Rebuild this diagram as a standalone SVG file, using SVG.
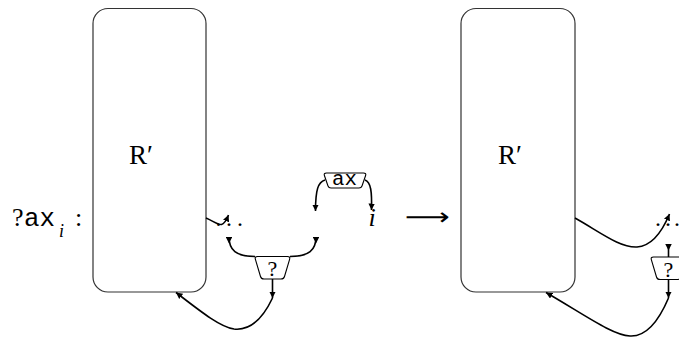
<svg xmlns="http://www.w3.org/2000/svg" width="679" height="340" viewBox="0 0 679 340">
<style>
.box{fill:#fff;stroke:#333;stroke-width:1.2}
.cell{fill:#fff;stroke:#000;stroke-width:1.1;stroke-linejoin:round}
.w{fill:none;stroke:#000;stroke-width:1.6}
.serif{font-family:"Liberation Serif","DejaVu Serif",serif;fill:#000}
.mono{font-family:"Liberation Mono","DejaVu Sans Mono",monospace;fill:#000}
.it{font-family:"Liberation Serif","DejaVu Serif",serif;font-style:italic;fill:#000}
</style>
<defs>
<marker id="ah" viewBox="0 0 10 10" refX="10" refY="5" markerWidth="6.5" markerHeight="6.5" markerUnits="userSpaceOnUse" orient="auto"><path d="M0,0 L10,5 L0,10 z" fill="#000"/></marker>
<marker id="tl" viewBox="0 0 10 10" refX="0" refY="5" markerWidth="6.5" markerHeight="6.5" markerUnits="userSpaceOnUse" orient="auto"><path d="M0,0 L10,5 L0,10 z" fill="#000"/></marker>
</defs>

<g id="label-left">
<text class="serif" x="12" y="226" font-size="26">?</text>
<text class="mono" x="24" y="226" font-size="26" textLength="31" lengthAdjust="spacingAndGlyphs">ax</text>
<text class="it" x="59" y="237" font-size="18">i</text>
<text class="serif" x="75" y="226" font-size="26">:</text>
</g>

<g id="R-left">
<rect class="box" x="93" y="8.5" width="113" height="283.5" rx="15"/>
<text class="serif" x="129" y="163.5" font-size="27">R′</text>
</g>

<g id="dots-left"><text class="serif" x="215.5 226 237" y="226" font-size="24">...</text></g>

<g id="q-left">
<path class="cell" d="M257.5,256.5 L287.5,256.5 Q290.5,256.5 289.6,259.3 L284.5,276.5 Q283.8,279 281,279 L264,279 Q261.2,279 260.5,276.5 L255.4,259.3 Q254.5,256.5 257.5,256.5 Z"/>
<text class="serif" x="272.5" y="276" font-size="22" text-anchor="middle">?</text>
</g>

<g id="ax-cell">
<path class="cell" d="M326.5,173 L363.5,173 Q366.5,173 365.6,175.5 L362,186 Q361.3,188 359,188 L331,188 Q328.7,188 328,186 L324.4,175.5 Q323.5,173 326.5,173 Z"/>
<text class="mono" x="344.5" y="185" font-size="20" text-anchor="middle" textLength="25" lengthAdjust="spacingAndGlyphs">ax</text>
</g>

<g id="i-label"><text class="it" x="372" y="226" font-size="26" text-anchor="middle">i</text></g>

<g id="arrow-sym"><text x="405" y="225" font-size="24" font-family="DejaVu Sans,sans-serif" textLength="45" lengthAdjust="spacingAndGlyphs">⟶</text></g>

<g id="R-right">
<rect class="box" x="461" y="8.5" width="114" height="283.5" rx="15"/>
<text class="serif" x="498" y="163.5" font-size="27">R′</text>
</g>

<g id="dots-right"><text class="serif" x="655 665 674" y="226" font-size="24">...</text></g>

<g id="q-right">
<path class="cell" d="M653.5,257 L683.5,257 Q686.5,257 685.6,259.8 L680.5,277 Q679.8,279.5 677,279.5 L660,279.5 Q657.2,279.5 656.5,277 L651.4,259.8 Q650.5,257 653.5,257 Z"/>
<text class="serif" x="668.5" y="276.5" font-size="22" text-anchor="middle">?</text>
</g>

<g id="connectors">
<path class="w" d="M206,218 C213,221 218,225 221.5,224.5 C224.5,224 226.5,220 228.5,215" marker-end="url(#ah)"/>
<path class="w" d="M229,237 C229,250 236,256.5 255,256.5" marker-start="url(#tl)"/>
<path class="w" d="M316,237 C316,250 309,256.5 290,256.5" marker-start="url(#tl)"/>
<path class="w" d="M272.5,279 L272.5,298" marker-end="url(#ah)"/>
<path class="w" d="M272.5,298 C264,316 252,331 234,329 C220,327 200,311 176,292.5" marker-end="url(#ah)"/>
<path class="w" d="M325,180 C318,182 315.5,190 315.5,211" marker-end="url(#ah)"/>
<path class="w" d="M365,180 C371,182 372,192 371.5,210" marker-end="url(#ah)"/>
<path class="w" d="M575,218 C600,232 620,248 637,247 C652,246 662,232 669.5,214" marker-end="url(#ah)"/>
<path class="w" d="M668.5,244 L668.5,257" marker-start="url(#tl)"/>
<path class="w" d="M668.5,279.5 L668.5,298" marker-end="url(#ah)"/>
<path class="w" d="M668.5,298 C660,318 648,337 630,336 C612,335 585,315 546,292.5" marker-end="url(#ah)"/>
</g>
</svg>
